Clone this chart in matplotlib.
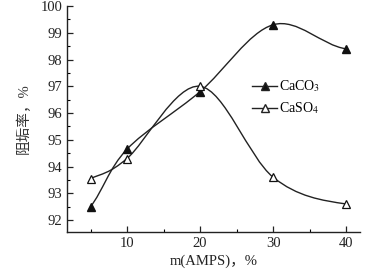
import numpy as np
import matplotlib
matplotlib.use("Agg")
import matplotlib.pyplot as plt
from matplotlib.path import Path
from matplotlib.patches import PathPatch
from matplotlib.lines import Line2D

plt.rcParams['font.family'] = ['Liberation Serif', 'Noto Sans CJK SC']
plt.rcParams['mathtext.fontset'] = 'stix'

# data
amps = [5, 10, 20, 30, 40]
caco3 = [92.5, 94.65, 96.8, 99.3, 98.4]
caso4 = [93.55, 94.3, 97.0, 93.6, 92.6]


def smooth_path(x, y):
    # Catmull-Rom through the points, drawn as cubic bezier segments
    x = np.asarray(x, float)
    y = np.asarray(y, float)
    n = len(x)
    tx = np.zeros(n)
    ty = np.zeros(n)
    for i in range(n):
        a = max(i - 1, 0)
        b = min(i + 1, n - 1)
        tx[i] = (x[b] - x[a]) / (b - a)
        ty[i] = (y[b] - y[a]) / (b - a)
    # softer ends
    ty[0] *= 0.8
    ty[-1] *= 0.4
    verts = [(x[0], y[0])]
    codes = [Path.MOVETO]
    for i in range(n - 1):
        verts += [(x[i] + tx[i] / 3, y[i] + ty[i] / 3),
                  (x[i + 1] - tx[i + 1] / 3, y[i + 1] - ty[i + 1] / 3),
                  (x[i + 1], y[i + 1])]
        codes += [Path.CURVE4] * 3
    return Path(verts, codes)


fig = plt.figure(figsize=(3.88, 2.74), dpi=100)
ax = fig.add_axes([0.173, 0.153, 0.755, 0.825])

for ys in (caco3, caso4):
    ax.add_patch(PathPatch(smooth_path(amps, ys), fill=False, color='#222222', lw=1.0))

ax.plot(amps, caco3, ls='none', marker='^', ms=6, color='#111111', mfc='#111111')
ax.plot(amps, caso4, ls='none', marker='^', ms=6, color='#111111', mfc='white', mew=0.9)

ax.set_xlim(1.8, 41.9)
ax.set_ylim(91.55, 100)
ax.set_xticks([10, 20, 30, 40])
ax.set_xticks([5, 15, 25, 35], minor=True)
ax.set_yticks(range(92, 101))
ax.set_yticks(np.arange(92.5, 100, 1), minor=True)
ax.tick_params(direction='in', labelsize=10.5, length=4, width=0.9, colors='#222222')
ax.tick_params(which='minor', direction='in', length=2.5, width=0.8)
for s in ('top', 'right'):
    ax.spines[s].set_visible(False)
for s in ('left', 'bottom'):
    ax.spines[s].set_linewidth(1.0)
    ax.spines[s].set_color('#222222')

ax.set_xlabel('m(AMPS)，%', fontsize=10.5, labelpad=3, color='#222222')
ax.set_ylabel('阻垢率，%', fontsize=10.5, labelpad=7, color='#333333')

handles = [Line2D([], [], color='#222222', lw=1.0, marker='^', ms=6, mfc='#111111'),
           Line2D([], [], color='#222222', lw=1.0, marker='^', ms=6, mfc='white')]
ax.legend(handles, ['CaCO$_3$', 'CaSO$_4$'], loc='upper left', bbox_to_anchor=(0.59, 0.735),
          frameon=False, fontsize=10, handlelength=1.8, handletextpad=0.1, labelspacing=0.45)

fig.savefig('out.png', dpi=100)
